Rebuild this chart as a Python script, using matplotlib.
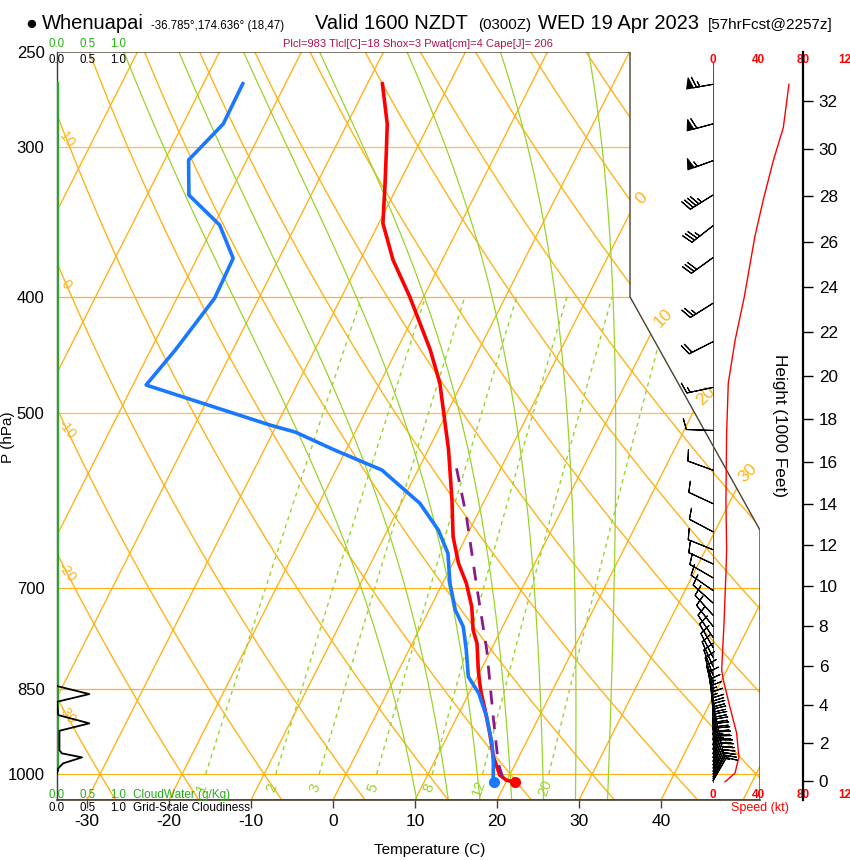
import numpy as np
import matplotlib
matplotlib.use('Agg')
import matplotlib.pyplot as plt
from matplotlib import transforms
from matplotlib.patches import Polygon
from matplotlib.ticker import NullLocator

plt.rcParams['font.family'] = ['Liberation Sans', 'DejaVu Sans']

# ---------------- data ----------------
temp_p = [265.5, 287.0, 301.7, 321.7, 347.3, 372.7, 399.9, 443.0, 472.0, 536.8, 590.9,
          634.0, 667.2, 693.4, 725.3, 758.4, 778.1, 819.0, 840.2, 856.4, 884.3, 924.8,
          967.3, 1001.9, 1011.6, 1016.0]
temp_c = [-38.2, -35.1, -33.6, -31.7, -29.5, -26.0, -21.7, -15.9, -12.7, -7.5, -4.0,
          -1.6, 0.7, 2.9, 5.0, 6.6, 7.9, 9.7, 10.7, 11.5, 13.0, 15.0,
          16.9, 18.8, 19.9, 21.1]
dewp_p = [265.5, 287.0, 307.6, 329.0, 348.5, 371.5, 401.2, 443.0, 473.8, 511.7, 518.6,
          536.8, 557.8, 594.7, 626.0, 654.6, 693.4, 729.9, 753.7, 788.1, 829.6, 856.4,
          895.8, 942.8, 979.7, 1005.2, 1016.0]
dewp_c = [-55.2, -55.1, -57.1, -54.9, -49.3, -45.6, -45.4, -47.0, -48.4, -30.8, -27.3,
          -21.4, -14.4, -7.7, -3.8, -1.2, 0.9, 3.2, 5.2, 7.0, 8.9, 11.2,
          13.6, 15.9, 17.3, 18.1, 18.6]
parcel_p = [556.0, 610.1, 693.4, 788.1, 895.8, 979.7, 1008.3, 1016.0]
parcel_c = [-5.4, -1.2, 4.1, 9.5, 14.4, 17.9, 19.4, 20.7]

cloudwater_p = [266, 400, 600, 800, 992]
cloudwater = [0.0, 0.0, 0.0, 0.0, 0.0]
cloudiness_p = [844.5, 857.6, 870.4, 892.9, 907.2, 920.2, 955.0, 961.0, 968.4, 979.6, 989.1, 998.7]
cloudiness = [0.0, 0.53, 0.0, 0.02, 0.53, 0.04, 0.04, 0.08, 0.41, 0.10, 0.02, 0.0]

speed_p = [266, 289, 308, 332, 356, 401, 435, 472, 520, 591, 650, 680, 748, 819, 835,
           879, 924, 968, 998, 1015]
speed_kt = [67.5, 62.5, 53.6, 44.7, 37.3, 27.6, 19.6, 13.6, 12.1, 11.5, 12.1, 11.5, 9.8,
            7.7, 9.2, 15, 21, 23, 19.6, 10.7]

barb_p = [266, 287, 308, 329, 349, 371, 405, 436, 476, 517, 558, 595, 628,
          650, 668, 686, 703, 720, 737, 753, 769, 784, 799, 813, 827, 840, 853, 865,
          877, 888, 899, 909, 919, 928, 937, 946, 954, 962, 969, 976, 983, 989, 995,
          1000, 1005, 1009, 1013]
barb_spd = [67, 62, 54, 45, 37, 31, 25, 19, 14, 12, 11.5, 12, 12,
            12, 11.5, 11.5, 10.8, 10.5, 10, 9.8, 9, 8.5, 8, 7.8, 8.5, 9.5, 11, 12.5,
            14, 15.5, 17, 18.5, 20, 21, 21.5, 22, 22.5, 23, 23, 22.5, 22, 21, 20,
            19, 17, 14, 11]
barb_dir = [260, 255, 250, 238, 232, 234, 238, 243, 258, 272, 290, 295, 298,
            292, 295, 300, 305, 312, 318, 322, 326, 330, 333, 336, 340, 343, 346, 350,
            353, 356, 358, 0, 2, 4, 6, 8, 10, 12, 14, 16, 18, 20, 22,
            24, 26, 28, 30]

p_ticks = [250, 300, 400, 500, 700, 850, 1000]
t_ticks = [-30, -20, -10, 0, 10, 20, 30, 40]
height_kft = [0, 2, 4, 6, 8, 10, 12, 14, 16, 18, 20, 22, 24, 26, 28, 30, 32]
speed_ticks = [0, 40, 80, 120]
cloud_ticks = [0.0, 0.5, 1.0]
mix_ratios = [1, 2, 3, 5, 8, 12, 20]
moist_t0 = [8, 12, 16, 20, 24, 28, 32]
isotherm_labels = [0, 10, 20, 30]
dry_labels = [-30, -20, -10, 0, 10]

# ---------------- layout / style ----------------
W, H = 850, 860
L, R, T, B = 57, 760, 52, 800
P_BOT, P_TOP = 1051.0, 250.0
X_MIN = -33.66
X_MAX = X_MIN + (R - L) / 8.2
XR1 = X_MIN + (630 - L) / 8.2
P_C1, P_C2 = 400.0, 626.0
SKEW = 0.90692 * 44.061 / np.log(10) / 0.54

ORANGE = '#ffb31a'
GREEN = '#99d42a'
FRAME = '#4a4030'

def fx(px):
    return px / W

def fy(py):
    return 1 - py / H

fig = plt.figure(figsize=(W / 100, H / 100), dpi=100)
ax = fig.add_axes([fx(L), fy(B), (R - L) / W, (B - T) / H])
ax.set_yscale('log')
ax.set_ylim(P_BOT, P_TOP)
ax.set_xlim(X_MIN, X_MAX)
ax.set_autoscale_on(False)

px_per_deg = (R - L) / (X_MAX - X_MIN)
px_per_ln = (B - T) / np.log(P_BOT / P_TOP)
tan_skew = SKEW * px_per_deg / px_per_ln
y0 = H - B
skew = transforms.Affine2D().translate(0, -y0).skew(np.arctan(tan_skew), 0).translate(0, y0)
tr = ax.transData + skew

def xskew(t, p):
    return t + SKEW * np.log(P_BOT / np.asarray(p))

frame = Polygon([(X_MIN, P_TOP), (XR1, P_TOP), (XR1, P_C1), (X_MAX, P_C2),
                 (X_MAX, P_BOT), (X_MIN, P_BOT)], closed=True, fill=False,
                edgecolor=FRAME, lw=1.0, transform=ax.transData, zorder=6)
ax.add_patch(frame)

def cplot(x, y, transform=tr, **kw):
    ln, = ax.plot(x, y, transform=transform, **kw)
    ln.set_clip_path(frame)
    return ln

pgrid = np.geomspace(P_BOT, P_TOP, 300)

# isobars
for p in p_ticks[1:]:
    cplot([X_MIN - 5, X_MAX + 5], [p, p], transform=ax.transData, color=ORANGE,
          lw=0.9, alpha=0.85 if p in (300, 500) else 1.0)

# isotherms
for t in range(-120, 60, 10):
    cplot([t, t], [P_BOT, P_TOP], color=ORANGE, lw=1.0)

# dry adiabats
for th in range(-40, 180, 10):
    tt = (th + 273.15) * (pgrid / 1000.0) ** 0.2857 - 273.15
    cplot(tt, pgrid, color=ORANGE, lw=1.0)

# moist adiabats
def moist_adiabat(t0, plev):
    Rd, Cp, Lv, eps = 287.04, 1005.7, 2.501e6, 0.622
    def dtdp(Tk, p):
        tc = Tk - 273.15
        es = 6.112 * np.exp(17.67 * tc / (tc + 243.5))
        rs = eps * es / (p - es)
        return (Rd * Tk + Lv * rs) / (p * (Cp + Lv * Lv * rs * eps / (Rd * Tk * Tk)))
    Tk = t0 + 273.15
    out = [Tk]
    for i in range(1, len(plev)):
        dp = plev[i] - plev[i - 1]
        k1 = dtdp(Tk, plev[i - 1])
        k2 = dtdp(Tk + k1 * dp, plev[i])
        Tk = Tk + 0.5 * (k1 + k2) * dp
        out.append(Tk)
    return np.array(out) - 273.15

p_up = np.linspace(1000, P_TOP, 376)
p_dn = np.linspace(1000, P_BOT + 5, 30)
for t0 in moist_t0:
    tu = moist_adiabat(t0, p_up)
    td = moist_adiabat(t0, p_dn)
    cplot(np.concatenate([td[::-1], tu]), np.concatenate([p_dn[::-1], p_up]),
          color=GREEN, lw=0.9)

# mixing ratio lines
def td_from_w(w, p):
    e = w * p / (622.0 + w)
    a = np.log(e / 6.112)
    return 243.5 * a / (17.67 - a)

p_mr = np.linspace(1000, 400, 60)
for w in mix_ratios:
    cplot(td_from_w(w, p_mr), p_mr, color=GREEN, lw=1.0, ls=(0, (3, 3)))
    ax.text(td_from_w(w, 1027.0), 1027.0, str(w), transform=tr, color=GREEN,
            fontsize=10.5, rotation=70, ha='center', va='center')

# isotherm labels at exit points
def xbound(p):
    if p >= P_C2:
        return X_MAX
    if p <= P_C1:
        return XR1
    f = np.log(p / P_C1) / np.log(P_C2 / P_C1)
    return XR1 + f * (X_MAX - XR1)

for t in isotherm_labels:
    xs = xskew(t, pgrid)
    idx = np.argmax(xs >= np.array([xbound(p) for p in pgrid]))
    ax.annotate(str(t), xy=(t, pgrid[idx]), xycoords=tr, xytext=(8, 10),
                textcoords='offset points', color=ORANGE, fontsize=12.5,
                rotation=45, ha='center', va='center', annotation_clip=False)

# dry adiabat labels near left edge
for th in dry_labels:
    tt = (th + 273.15) * (pgrid / 1000.0) ** 0.2857 - 273.15
    xs = xskew(tt, pgrid)
    idx = np.argmin(np.abs(xs - (X_MIN + 1.2)))
    ax.text(tt[idx], pgrid[idx], str(th), transform=tr, color=ORANGE, fontsize=10,
            rotation=-52, ha='center', va='center')

# profiles
cplot(temp_c, temp_p, color='#ff0000', lw=2.6, zorder=4, solid_capstyle='round')
cplot(dewp_c, dewp_p, color='#1a78ff', lw=2.6, zorder=4, solid_capstyle='round')
cplot(parcel_c, parcel_p, color='#8b1a89', lw=2.0, ls=(0, (5, 4)), zorder=4)
ax.plot([temp_c[-1]], [temp_p[-1]], 'o', transform=tr, color='#ff0000', ms=7, zorder=5)
ax.plot([dewp_c[-1]], [dewp_p[-1]], 'o', transform=tr, color='#1a78ff', ms=7, zorder=5)

# axes styling
ax.set_xticks(t_ticks)
ax.set_xticklabels([str(t) for t in t_ticks])
ax.set_yticks(p_ticks)
ax.set_yticklabels([str(p) for p in p_ticks])
ax.yaxis.set_minor_locator(NullLocator())
ax.tick_params(axis='x', direction='out', length=6, width=1, color=FRAME,
               labelsize=12.5, pad=4)
ax.tick_params(axis='y', length=0, labelsize=12, pad=9)
for s in ('top', 'right'):
    ax.spines[s].set_visible(False)
ax.spines['left'].set_color('#333333')
ax.spines['left'].set_linewidth(1.0)
ax.spines['bottom'].set_color(FRAME)
ax.spines['bottom'].set_linewidth(1.2)

# ---------------- cloud panel ----------------
axc = fig.add_axes([fx(L), fy(B), (R - L) / W, (B - T) / H])
axc.set_yscale('log')
axc.set_ylim(P_BOT, P_TOP)
axc.set_xlim(0, (R - L) / 61.0)
axc.axis('off')
axc.patch.set_visible(False)
axc.plot(cloudwater, cloudwater_p, color='#22aa22', lw=3)
axc.plot(cloudiness, cloudiness_p, color='black', lw=1.3)
bc = transforms.blended_transform_factory(axc.transData, fig.transFigure)
for v in cloud_ticks:
    axc.text(v, fy(44), f'{v:.1f}', transform=bc, color='#22b014', fontsize=8.3,
             ha='center', va='center')
    axc.text(v, fy(60), f'{v:.1f}', transform=bc, color='black', fontsize=8.3,
             ha='center', va='center')
    axc.text(v, fy(795), f'{v:.1f}', transform=bc, color='#22b014', fontsize=8.3,
             ha='center', va='center')
    axc.text(v, fy(808), f'{v:.1f}', transform=bc, color='black', fontsize=8.3,
             ha='center', va='center')
fig.text(fx(133), fy(795), 'CloudWater (g/Kg)', color='#22b014', fontsize=8.5, va='center')
fig.text(fx(133), fy(808), 'Grid-Scale Cloudiness', color='black', fontsize=8.5, va='center')

# ---------------- wind panel ----------------
axw = fig.add_axes([fx(713), fy(B), 135 / W, (B - T) / H])
axw.set_yscale('log')
axw.set_ylim(P_BOT, P_TOP)
axw.set_xlim(0, 120)
axw.axis('off')
axw.patch.set_visible(False)
axw.plot([0, 0], [255, 1016], color='#555555', lw=0.8)
axw.plot(speed_kt, speed_p, color='#ff0000', lw=1.0)
d = np.deg2rad(barb_dir)
u = -np.array(barb_spd) * np.sin(d)
v = -np.array(barb_spd) * np.cos(d)
axw.barbs(np.zeros(len(barb_p)), barb_p, u, v, length=6.2, linewidth=0.8,
          color='black', zorder=5, clip_on=False)
bw = transforms.blended_transform_factory(axw.transData, fig.transFigure)
for s in speed_ticks:
    axw.text(s, fy(60), str(s), transform=bw, color='#ff0000', fontsize=8.5,
             fontweight='bold', ha='center', va='center', clip_on=False)
    axw.text(s, fy(795), str(s), transform=bw, color='#ff0000', fontsize=8.5,
             fontweight='bold', ha='center', va='center', clip_on=False)
fig.text(fx(760), fy(808), 'Speed (kt)', color='#ff0000', fontsize=9, ha='center', va='center')

# ---------------- height axis ----------------
axh = fig.add_axes([fx(803), fy(B), 0.0005, (B - T) / H])
axh.set_yscale('log')
axh.set_ylim(P_BOT, P_TOP)
axh.patch.set_visible(False)
for s in ('left', 'top', 'bottom'):
    axh.spines[s].set_visible(False)
axh.spines['right'].set_linewidth(1.6)
axh.set_xticks([])
hp = [1013.25 * (1 - 6.8756e-6 * h * 1000) ** 5.2559 for h in height_kft]
axh.yaxis.tick_right()
axh.set_yticks(hp)
axh.set_yticklabels([str(h) for h in height_kft])
axh.yaxis.set_minor_locator(NullLocator())
axh.tick_params(axis='y', length=7, width=1, labelsize=12.3, pad=4)
fig.text(fx(780), fy(426), 'Height (1000 Feet)', rotation=-90, fontsize=12.3,
         ha='center', va='center')

# ---------------- titles ----------------
fig.text(fx(25), fy(29), '\u25cf', fontsize=14, va='baseline')
fig.text(fx(42), fy(29), 'Whenuapai', fontsize=14.5, va='baseline')
fig.text(fx(151), fy(29), '-36.785\u00b0,174.636\u00b0 (18,47)', fontsize=8.3, va='baseline')
fig.text(fx(315), fy(29), 'Valid 1600 NZDT', fontsize=14.5, va='baseline')
fig.text(fx(478), fy(29), '(0300Z)', fontsize=10.8, va='baseline')
fig.text(fx(538), fy(29), 'WED 19 Apr 2023', fontsize=14.5, va='baseline')
fig.text(fx(708), fy(29), '[57hrFcst@2257z]', fontsize=11, va='baseline')
fig.text(fx(283), fy(44), 'Plcl=983 Tlcl[C]=18 Shox=3 Pwat[cm]=4 Cape[J]= 206',
         color='#b01050', fontsize=8, va='center')
fig.text(fx(430), fy(850), 'Temperature (C)', fontsize=11, ha='center', va='center')
fig.text(fx(8), fy(437), 'P (hPa)', fontsize=11, rotation=90, ha='center', va='center')

fig.savefig('out.png', dpi=100, facecolor='white')
